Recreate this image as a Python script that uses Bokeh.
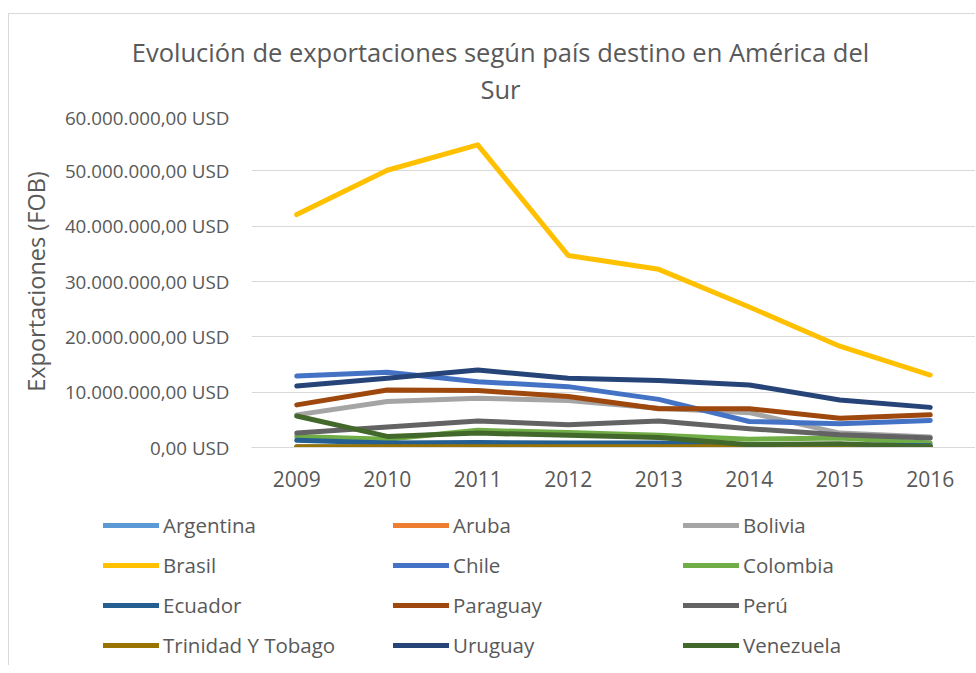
from bokeh.plotting import figure
from bokeh.layouts import column, row
from bokeh.models import (FactorRange, Range1d, FixedTicker, Legend, LegendItem, Label,
                          ColumnDataSource)
from bokeh.embed import file_html
from bokeh.resources import INLINE

# ---- data (USD) ----
years = ["2009", "2010", "2011", "2012", "2013", "2014", "2015", "2016"]
argentina = [150000, 120000, 100000, 120000, 100000, 100000, 80000, 80000]
aruba = [20000, 20000, 20000, 20000, 20000, 20000, 20000, 20000]
bolivia = [5900000, 8300000, 8900000, 8500000, 7100000, 6300000, 2600000, 1900000]
brasil = [42100000, 50100000, 54700000, 34700000, 32200000, 25400000, 18300000, 13100000]
chile = [12900000, 13600000, 11900000, 11000000, 8700000, 4700000, 4300000, 4900000]
colombia = [2000000, 1500000, 3100000, 2700000, 2200000, 1500000, 1700000, 800000]
ecuador = [1300000, 800000, 900000, 800000, 800000, 500000, 500000, 300000]
paraguay = [7700000, 10400000, 10300000, 9200000, 7000000, 7000000, 5300000, 5900000]
peru = [2600000, 3700000, 4800000, 4100000, 4800000, 3400000, 2300000, 1700000]
trinidad = [150000, 150000, 150000, 150000, 150000, 120000, 120000, 100000]
uruguay = [11100000, 12500000, 14000000, 12500000, 12100000, 11300000, 8600000, 7250000]
venezuela = [5700000, 2000000, 2600000, 2200000, 1800000, 500000, 700000, 100000]

series_names = ["Argentina", "Aruba", "Bolivia", "Brasil", "Chile", "Colombia",
                "Ecuador", "Paraguay", "Perú", "Trinidad Y Tobago", "Uruguay", "Venezuela"]
series_values = [argentina, aruba, bolivia, brasil, chile, colombia,
                 ecuador, paraguay, peru, trinidad, uruguay, venezuela]
series_colors = ["#5B9BD5", "#ED7D31", "#A5A5A5", "#FFC000", "#4472C4", "#70AD47",
                 "#255E91", "#9E480E", "#636363", "#997300", "#264478", "#43682B"]

y_tick_values = [0, 10000000, 20000000, 30000000, 40000000, 50000000, 60000000]
y_tick_labels = ["0,00 USD", "10.000.000,00 USD", "20.000.000,00 USD", "30.000.000,00 USD",
                 "40.000.000,00 USD", "50.000.000,00 USD", "60.000.000,00 USD"]

title_lines = ["Evolución de exportaciones según país destino en América del", "Sur"]
y_title = "Exportaciones (FOB)"

TXT = "#595959"
FONT = "Open Sans"
W = 966

# ---- title strip ----
pt = figure(width=W, height=90, x_range=Range1d(0, 1), y_range=Range1d(0, 1),
            output_backend="svg", toolbar_location=None, min_border=0,
            x_axis_location=None, y_axis_location=None)
pt.outline_line_color = None
pt.grid.visible = False
for txt, yy in zip(title_lines, [53, 16]):
    pt.add_layout(Label(x=491, y=yy, x_units="screen", y_units="screen", text=txt,
                        text_align="center", text_baseline="middle", text_font=FONT,
                        text_font_size="25.5px", text_color=TXT))

# ---- main chart ----
xr = FactorRange(*years)
p = figure(x_range=xr, y_range=Range1d(0, 60000000),
           width=W, height=395, output_backend="svg", toolbar_location=None,
           min_border_left=242, min_border_right=0, min_border_top=11, min_border_bottom=52)
p.outline_line_color = None
p.xgrid.grid_line_color = None
p.ygrid.grid_line_color = "#d9d9d9"
p.ygrid.grid_line_width = 1

p.yaxis.ticker = FixedTicker(ticks=y_tick_values)
p.yaxis.major_label_overrides = dict(zip(y_tick_values, y_tick_labels))
p.yaxis.axis_line_color = None
p.yaxis.major_tick_line_color = None
p.yaxis.minor_tick_line_color = None
p.yaxis.major_label_standoff = 16
p.yaxis.major_label_text_font = FONT
p.yaxis.major_label_text_font_size = "18.8px"
p.yaxis.major_label_text_color = TXT
p.yaxis.axis_label = y_title
p.yaxis.axis_label_text_font = FONT
p.yaxis.axis_label_text_font_size = "23.5px"
p.yaxis.axis_label_text_font_style = "normal"
p.yaxis.axis_label_text_color = TXT
p.yaxis.axis_label_standoff = 10

p.xaxis.axis_line_color = "#d9d9d9"
p.xaxis.axis_line_width = 1
p.xaxis.major_tick_line_color = None
p.xaxis.minor_tick_line_color = None
p.xaxis.major_label_standoff = 17
p.xaxis.major_label_text_font = FONT
p.xaxis.major_label_text_font_size = "21px"
p.xaxis.major_label_text_color = TXT

# ---- legend strip (same sources, drawn off-range so only the legend shows) ----
pl = figure(width=W, height=166, x_range=xr, y_range=Range1d(-2e8, -1e8),
            output_backend="svg", toolbar_location=None, min_border=0,
            x_axis_location=None, y_axis_location=None)
pl.outline_line_color = None
pl.grid.visible = False

items = []
for name, vals, col in zip(series_names, series_values, series_colors):
    src = ColumnDataSource(data=dict(x=years, y=vals))
    style = dict(line_color=col, line_width=5, line_join="round", line_cap="round")
    p.line(x="x", y="y", source=src, **style)
    rl = pl.line(x="x", y="y", source=src, **style)
    items.append(LegendItem(label=name, renderers=[rl]))

legend = Legend(items=items, orientation="horizontal", ncols=3,
                location=(94, 0), padding=0, spacing=0, margin=0,
                glyph_width=56, glyph_height=40, label_height=40, label_width=230,
                label_standoff=4, label_text_font=FONT, label_text_font_size="20.5px",
                label_text_color=TXT, border_line_alpha=0, background_fill_alpha=0)
pl.add_layout(legend)

layout = column(row(pt), p, row(pl), spacing=0,
                styles={"margin-left": "8px", "margin-top": "13px",
                        "border-top": "1px solid #d9d9d9", "border-left": "1px solid #d9d9d9"})

open("out.html", "w").write(file_html(layout, INLINE))
